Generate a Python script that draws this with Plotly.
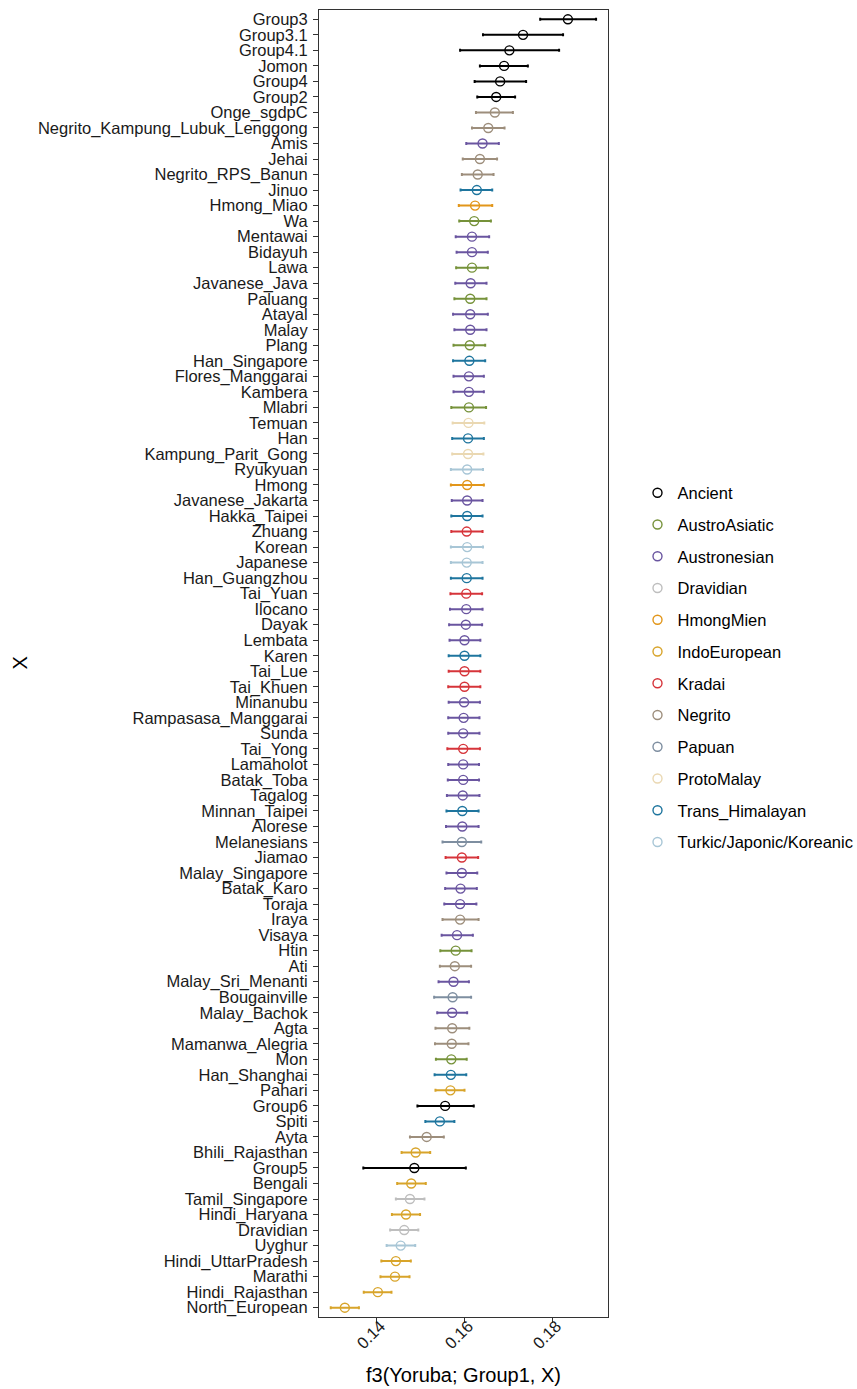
import plotly.graph_objects as go

populations = [
    "Group3", "Group3.1", "Group4.1", "Jomon", "Group4", "Group2", "Onge_sgdpC",
    "Negrito_Kampung_Lubuk_Lenggong", "Amis", "Jehai", "Negrito_RPS_Banun", "Jinuo",
    "Hmong_Miao", "Wa", "Mentawai", "Bidayuh", "Lawa", "Javanese_Java", "Paluang",
    "Atayal", "Malay", "Plang", "Han_Singapore", "Flores_Manggarai", "Kambera",
    "Mlabri", "Temuan", "Han", "Kampung_Parit_Gong", "Ryukyuan", "Hmong",
    "Javanese_Jakarta", "Hakka_Taipei", "Zhuang", "Korean", "Japanese",
    "Han_Guangzhou", "Tai_Yuan", "Ilocano", "Dayak", "Lembata", "Karen", "Tai_Lue",
    "Tai_Khuen", "Minanubu", "Rampasasa_Manggarai", "Sunda", "Tai_Yong",
    "Lamaholot", "Batak_Toba", "Tagalog", "Minnan_Taipei", "Alorese", "Melanesians",
    "Jiamao", "Malay_Singapore", "Batak_Karo", "Toraja", "Iraya", "Visaya", "Htin",
    "Ati", "Malay_Sri_Menanti", "Bougainville", "Malay_Bachok", "Agta",
    "Mamanwa_Alegria", "Mon", "Han_Shanghai", "Pahari", "Group6", "Spiti", "Ayta",
    "Bhili_Rajasthan", "Group5", "Bengali", "Tamil_Singapore", "Hindi_Haryana",
    "Dravidian", "Uyghur", "Hindi_UttarPradesh", "Marathi", "Hindi_Rajasthan",
    "North_European",
]

f3 = [
    0.1835, 0.1733, 0.1702, 0.1690, 0.1681, 0.1672, 0.1669, 0.1654, 0.1641, 0.1635,
    0.1630, 0.1628, 0.1624, 0.1622, 0.1617, 0.1617, 0.1617, 0.1614, 0.1613, 0.1613,
    0.1613, 0.1612, 0.1611, 0.1610, 0.1610, 0.1610, 0.1609, 0.1608, 0.1608, 0.1606,
    0.1606, 0.1606, 0.1606, 0.1605, 0.1606, 0.1605, 0.1605, 0.1604, 0.1604, 0.1603,
    0.1600, 0.1600, 0.1600, 0.1600, 0.1599, 0.1598, 0.1597, 0.1597, 0.1597, 0.1597,
    0.1596, 0.1595, 0.1595, 0.1594, 0.1594, 0.1594, 0.1591, 0.1590, 0.1590, 0.1583,
    0.1580, 0.1578, 0.1575, 0.1573, 0.1572, 0.1572, 0.1571, 0.1570, 0.1569, 0.1568,
    0.1556, 0.1544, 0.1514, 0.1489, 0.1486, 0.1479, 0.1476, 0.1467, 0.1463, 0.1455,
    0.1444, 0.1442, 0.1403, 0.1328,
]

ci_low = [
    0.1772, 0.1642, 0.1590, 0.1635, 0.1623, 0.1629, 0.1626, 0.1617, 0.1604, 0.1596,
    0.1594, 0.1591, 0.1587, 0.1588, 0.1580, 0.1582, 0.1581, 0.1579, 0.1577, 0.1574,
    0.1577, 0.1575, 0.1574, 0.1575, 0.1575, 0.1570, 0.1573, 0.1572, 0.1572, 0.1569,
    0.1569, 0.1571, 0.1570, 0.1570, 0.1569, 0.1569, 0.1569, 0.1568, 0.1567, 0.1565,
    0.1566, 0.1564, 0.1564, 0.1563, 0.1564, 0.1563, 0.1563, 0.1561, 0.1563, 0.1562,
    0.1560, 0.1559, 0.1558, 0.1550, 0.1557, 0.1559, 0.1556, 0.1554, 0.1550, 0.1548,
    0.1545, 0.1544, 0.1541, 0.1531, 0.1538, 0.1534, 0.1533, 0.1535, 0.1532, 0.1534,
    0.1493, 0.1511, 0.1476, 0.1457, 0.1370, 0.1447, 0.1444, 0.1435, 0.1431, 0.1423,
    0.1411, 0.1409, 0.1371, 0.1296,
]

ci_high = [
    0.1899, 0.1824, 0.1815, 0.1744, 0.1740, 0.1715, 0.1710, 0.1691, 0.1678, 0.1674,
    0.1666, 0.1663, 0.1663, 0.1660, 0.1656, 0.1653, 0.1653, 0.1650, 0.1650, 0.1653,
    0.1650, 0.1647, 0.1647, 0.1644, 0.1644, 0.1649, 0.1645, 0.1644, 0.1643, 0.1642,
    0.1644, 0.1641, 0.1641, 0.1641, 0.1642, 0.1641, 0.1641, 0.1640, 0.1641, 0.1640,
    0.1636, 0.1636, 0.1636, 0.1636, 0.1635, 0.1634, 0.1634, 0.1635, 0.1633, 0.1633,
    0.1634, 0.1632, 0.1632, 0.1638, 0.1631, 0.1629, 0.1628, 0.1627, 0.1632, 0.1619,
    0.1616, 0.1615, 0.1610, 0.1615, 0.1606, 0.1611, 0.1609, 0.1605, 0.1604, 0.1600,
    0.1621, 0.1577, 0.1553, 0.1522, 0.1603, 0.1512, 0.1509, 0.1499, 0.1495, 0.1488,
    0.1478, 0.1475, 0.1434, 0.1360,
]

families = [
    "Ancient", "Ancient", "Ancient", "Ancient", "Ancient", "Ancient", "Negrito",
    "Negrito", "Austronesian", "Negrito", "Negrito", "Trans_Himalayan",
    "HmongMien", "AustroAsiatic", "Austronesian", "Austronesian", "AustroAsiatic",
    "Austronesian", "AustroAsiatic", "Austronesian", "Austronesian", "AustroAsiatic",
    "Trans_Himalayan", "Austronesian", "Austronesian", "AustroAsiatic", "ProtoMalay",
    "Trans_Himalayan", "ProtoMalay", "Turkic/Japonic/Koreanic", "HmongMien",
    "Austronesian", "Trans_Himalayan", "Kradai", "Turkic/Japonic/Koreanic",
    "Turkic/Japonic/Koreanic", "Trans_Himalayan", "Kradai", "Austronesian",
    "Austronesian", "Austronesian", "Trans_Himalayan", "Kradai", "Kradai",
    "Austronesian", "Austronesian", "Austronesian", "Kradai", "Austronesian",
    "Austronesian", "Austronesian", "Trans_Himalayan", "Austronesian", "Papuan",
    "Kradai", "Austronesian", "Austronesian", "Austronesian", "Negrito",
    "Austronesian", "AustroAsiatic", "Negrito", "Austronesian", "Papuan",
    "Austronesian", "Negrito", "Negrito", "AustroAsiatic", "Trans_Himalayan",
    "IndoEuropean", "Ancient", "Trans_Himalayan", "Negrito", "IndoEuropean",
    "Ancient", "IndoEuropean", "Dravidian", "IndoEuropean", "Dravidian",
    "Turkic/Japonic/Koreanic", "IndoEuropean", "IndoEuropean", "IndoEuropean",
    "IndoEuropean",
]

legend_order = [
    "Ancient", "AustroAsiatic", "Austronesian", "Dravidian", "HmongMien",
    "IndoEuropean", "Kradai", "Negrito", "Papuan", "ProtoMalay", "Trans_Himalayan",
    "Turkic/Japonic/Koreanic",
]

palette = {
    "Ancient": "#000000",
    "AustroAsiatic": "#76923A",
    "Austronesian": "#6A55A0",
    "Dravidian": "#BEBEBE",
    "HmongMien": "#E2961A",
    "IndoEuropean": "#D8A42A",
    "Kradai": "#D6343A",
    "Negrito": "#9D8E7C",
    "Papuan": "#7E8EA0",
    "ProtoMalay": "#EAD8B2",
    "Trans_Himalayan": "#1E759E",
    "Turkic/Japonic/Koreanic": "#A8C6D6",
}

FONT = "Liberation Sans, Arial, Helvetica, sans-serif"

fig = go.Figure()
for fam in legend_order:
    idx = [i for i, f in enumerate(families) if f == fam]
    xs = [f3[i] for i in idx]
    ys = [populations[i] for i in idx]
    plus = [ci_high[i] - f3[i] for i in idx]
    minus = [f3[i] - ci_low[i] for i in idx]
    col = palette[fam]
    fig.add_trace(go.Scatter(
        x=xs, y=ys, mode="markers", name=fam, legendgroup=fam,
        marker=dict(symbol="circle-open", size=9, color=col, line=dict(width=1.4, color=col)),
        error_x=dict(type="data", symmetric=False, array=plus, arrayminus=minus,
                     color=col, thickness=2, width=1.5),
    ))

n = len(populations)
fig.update_layout(
    width=857, height=1389,
    margin=dict(l=319, r=249, t=10, b=72),
    paper_bgcolor="white", plot_bgcolor="white",
    font=dict(family=FONT, size=16.5, color="#000000"),
    showlegend=True,
    legend=dict(
        xref="container", yref="container",
        x=637.5 / 857, xanchor="left", y=1 - 667.5 / 1389, yanchor="middle",
        font=dict(family=FONT, size=16.5, color="#000000"),
        tracegroupgap=7.3, itemsizing="trace",
        bgcolor="rgba(0,0,0,0)",
    ),
    xaxis=dict(
        range=[0.12693, 0.19261], tickmode="array", tickvals=[0.14, 0.16, 0.18],
        ticktext=["0.14", "0.16", "0.18"], tickangle=-45, automargin=False,
        ticks="outside", ticklen=5, tickwidth=1, tickcolor="#333333",
        ticklabelstandoff=-13, ticklabelshift=4,
        showgrid=False, zeroline=False, showline=True, mirror=True,
        linecolor="#333333", linewidth=1,
        tickfont=dict(family=FONT, size=16.5, color="#1a1a1a"),
    ),
    yaxis=dict(
        type="category", categoryorder="array", categoryarray=populations,
        tickmode="array", tickvals=populations, ticktext=populations,
        range=[n - 1 + 0.6, -0.6], automargin=False,
        ticks="outside", ticklen=5, tickwidth=1, tickcolor="#333333",
        ticklabelstandoff=2,
        showgrid=False, zeroline=False, showline=True, mirror=True,
        linecolor="#333333", linewidth=1,
        tickfont=dict(family=FONT, size=16.5, color="#1a1a1a"),
    ),
    annotations=[
        dict(text="f3(Yoruba; Group1, X)", xref="paper", yref="paper",
             x=0.5, y=-(1375 - 1317) / 1307, xanchor="center", yanchor="middle",
             showarrow=False, font=dict(family=FONT, size=20, color="#000000")),
        dict(text="X", xref="paper", yref="paper", textangle=-90,
             x=-(319 - 19) / 289, y=0.5, xanchor="center", yanchor="middle",
             showarrow=False, font=dict(family=FONT, size=20, color="#000000")),
    ],
)

fig.write_html("out.html", config={"displayModeBar": False},
               post_script="document.body.style.margin='0px';")
